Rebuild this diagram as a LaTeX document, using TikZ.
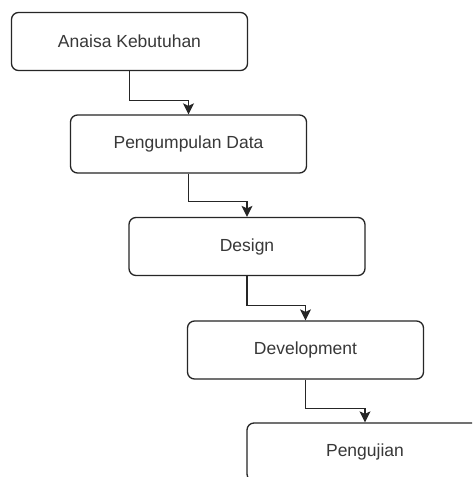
\documentclass[tikz,border=0pt]{standalone}
\usepackage{fontspec}
\setmainfont{Liberation Sans}
\usetikzlibrary{arrows.meta}
\begin{document}
\begin{tikzpicture}[x=1pt,y=-1pt,
  stepbox/.style={draw=black!85,line width=1.3pt,rounded corners=7pt,minimum width=236pt,minimum height=58pt,inner sep=0pt,fill=white,text=black!78,font=\fontsize{17.5}{20}\selectfont},
  conn/.style={draw=black!85,line width=1.3pt,-{Stealth[length=11pt,width=11pt,inset=2.5pt]}}]
\useasboundingbox (0,0) rectangle (472,477);
\clip (0,0) rectangle (472,477);
\fill[white] (0,0) rectangle (472,477);
\node[stepbox] (b1) at (129.5,41.5) {Anaisa Kebutuhan};
\node[stepbox] (b2) at (188.5,144) {Pengumpulan Data};
\node[stepbox] (b3) at (247,246.5) {Design};
\node[stepbox] (b4) at (305.5,350) {Development};
\node[stepbox] (b5) at (365,452) {Pengujian};
\draw[conn] (b1.south) -- ++(0,29) -| (b2.north);
\draw[conn] (b2.south) -- ++(0,28) -| (b3.north);
\draw[conn] (b3.south) -- ++(0,29) -| (b4.north);
\draw[conn] (b4.south) -- ++(0,29) -| (b5.north);
\end{tikzpicture}
\end{document}
